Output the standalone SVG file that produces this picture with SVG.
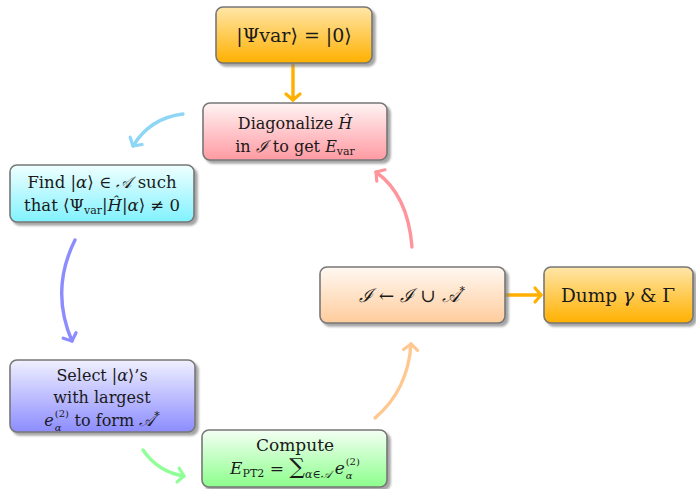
<svg xmlns="http://www.w3.org/2000/svg" width="696" height="489" viewBox="0 0 696 489">
<defs>
<linearGradient id="gOr" x1="0" y1="0" x2="0" y2="1"><stop offset="0" stop-color="#ffe6a8"/><stop offset="1" stop-color="#ffb000"/></linearGradient>
<linearGradient id="gRed" x1="0" y1="0" x2="0" y2="1"><stop offset="0" stop-color="#fff4f4"/><stop offset="1" stop-color="#ff9aa2"/></linearGradient>
<linearGradient id="gCy" x1="0" y1="0" x2="0" y2="1"><stop offset="0" stop-color="#f0ffff"/><stop offset="1" stop-color="#80f2ff"/></linearGradient>
<linearGradient id="gBl" x1="0" y1="0" x2="0" y2="1"><stop offset="0" stop-color="#f0f0ff"/><stop offset="1" stop-color="#8c8cff"/></linearGradient>
<linearGradient id="gGr" x1="0" y1="0" x2="0" y2="1"><stop offset="0" stop-color="#f4fff4"/><stop offset="1" stop-color="#8cff8c"/></linearGradient>
<linearGradient id="gPe" x1="0" y1="0" x2="0" y2="1"><stop offset="0" stop-color="#fff8f2"/><stop offset="1" stop-color="#ffcc9c"/></linearGradient>
<filter id="sh" x="-10%" y="-10%" width="130%" height="140%"><feDropShadow dx="3" dy="3" stdDeviation="1.2" flood-color="#808080" flood-opacity="0.7"/></filter>
<marker id="mOr" markerUnits="userSpaceOnUse" markerWidth="20" markerHeight="20" refX="0" refY="0" viewBox="-10 -10 20 20" orient="auto"><path d="M-6,-7 L0,0 L-6,7" fill="none" stroke="#ffb000" stroke-width="3.2" stroke-linecap="round" stroke-linejoin="round"/></marker>
<marker id="mSky" markerUnits="userSpaceOnUse" markerWidth="20" markerHeight="20" refX="0" refY="0" viewBox="-10 -10 20 20" orient="auto"><path d="M-6,-7 L0,0 L-6,7" fill="none" stroke="#8dd6f6" stroke-width="3.2" stroke-linecap="round" stroke-linejoin="round"/></marker>
<marker id="mBl" markerUnits="userSpaceOnUse" markerWidth="20" markerHeight="20" refX="0" refY="0" viewBox="-10 -10 20 20" orient="auto"><path d="M-6,-7 L0,0 L-6,7" fill="none" stroke="#8c8cff" stroke-width="3.2" stroke-linecap="round" stroke-linejoin="round"/></marker>
<marker id="mGr" markerUnits="userSpaceOnUse" markerWidth="20" markerHeight="20" refX="0" refY="0" viewBox="-10 -10 20 20" orient="auto"><path d="M-6,-7 L0,0 L-6,7" fill="none" stroke="#90ff98" stroke-width="3.2" stroke-linecap="round" stroke-linejoin="round"/></marker>
<marker id="mPe" markerUnits="userSpaceOnUse" markerWidth="20" markerHeight="20" refX="0" refY="0" viewBox="-10 -10 20 20" orient="auto"><path d="M-6,-7 L0,0 L-6,7" fill="none" stroke="#ffc890" stroke-width="3.2" stroke-linecap="round" stroke-linejoin="round"/></marker>
<marker id="mPk" markerUnits="userSpaceOnUse" markerWidth="20" markerHeight="20" refX="0" refY="0" viewBox="-10 -10 20 20" orient="auto"><path d="M-6,-7 L0,0 L-6,7" fill="none" stroke="#ff959c" stroke-width="3.2" stroke-linecap="round" stroke-linejoin="round"/></marker>
</defs>
<style>
.box{stroke:#777;stroke-width:1.6;filter:url(#sh)}
text{font-family:"DejaVu Serif","Liberation Serif",serif;font-size:16px;fill:#1a1a1a;text-anchor:middle}
.big{font-size:18.5px}
.it{font-style:italic}
.sub{font-size:11px}
.sm{font-size:10px}
.arr{fill:none;stroke-width:3.4;stroke-linecap:round}
</style>
<g id="connectors">
<path class="arr" d="M293,64 L293,100" stroke="#ffb000" marker-end="url(#mOr)"/>
<path class="arr" d="M183,114 Q150,118 133,146" stroke="#8dd6f6" marker-end="url(#mSky)"/>
<path class="arr" d="M75,240 Q50,290 72,341" stroke="#8c8cff" marker-end="url(#mBl)"/>
<path class="arr" d="M143,450 Q158,472 184,476" stroke="#90ff98" marker-end="url(#mGr)"/>
<path class="arr" d="M375,418 Q408,390 411,344" stroke="#ffc890" marker-end="url(#mPe)"/>
<path class="arr" d="M412,247 Q408,195 376,172" stroke="#ff959c" marker-end="url(#mPk)"/>
<path class="arr" d="M506,295 L541,295" stroke="#ffb000" marker-end="url(#mOr)"/>
</g>
<g id="init">
<rect class="box" x="216" y="7" width="156" height="56" rx="7" fill="url(#gOr)"/>
<text class="big" x="294" y="42" style="font-size:19px">|Ψvar⟩ =  |0⟩</text>
</g>
<g id="diag">
<rect class="box" x="203" y="103" width="184" height="57" rx="7" fill="url(#gRed)"/>
<text x="295" y="129">Diagonalize <tspan class="it">Ĥ</tspan></text>
<text x="295" y="152">in <tspan class="it">ℐ</tspan> to get <tspan class="it">E</tspan><tspan class="sub" dy="3">var</tspan></text>
</g>
<g id="find">
<rect class="box" x="10" y="165" width="184" height="57" rx="7" fill="url(#gCy)"/>
<text x="102" y="188" style="font-size:16.5px">Find |<tspan class="it">α</tspan>⟩ ∈ <tspan class="it">𝒜</tspan> such</text>
<text x="102" y="211" style="font-size:16.5px">that  ⟨Ψ<tspan class="sub" dy="3">var</tspan><tspan dy="-3">|</tspan><tspan class="it">Ĥ</tspan>|<tspan class="it">α</tspan>⟩ ≠ 0</text>
</g>
<g id="select">
<rect class="box" x="10" y="360" width="185" height="72" rx="7" fill="url(#gBl)"/>
<text x="102" y="426"><tspan class="it">e</tspan><tspan class="sm" dx="1" dy="-9">(2)</tspan><tspan class="sm it" dx="-14.2" dy="14">α</tspan><tspan dx="8" dy="-5"> to form </tspan><tspan class="it">𝒜</tspan><tspan class="sub" dy="-7">*</tspan></text>
<text x="102" y="381">Select |<tspan class="it">α</tspan>⟩’s</text>
<text x="102" y="403">with largest</text>
</g>
<g id="compute">
<rect class="box" x="202" y="430" width="185" height="57" rx="7" fill="url(#gGr)"/>
<text x="295" y="451" style="font-size:17px">Compute</text>
<text x="295" y="474" style="font-size:17px"><tspan class="it">E</tspan><tspan class="sub" dy="3">PT2</tspan><tspan dy="-3"> = </tspan><tspan style="font-size:22px">∑</tspan><tspan class="sub it" dy="4">α∈𝒜</tspan><tspan class="it" dx="4" dy="-4">e</tspan><tspan class="sm" dx="1" dy="-9">(2)</tspan><tspan class="sm it" dx="-14.2" dy="14">α</tspan></text>
</g>
<g id="update">
<rect class="box" x="320" y="267" width="185" height="56" rx="7" fill="url(#gPe)"/>
<text class="big" x="412" y="302"><tspan class="it">ℐ</tspan> ← <tspan class="it">ℐ</tspan> ∪ <tspan class="it">𝒜</tspan><tspan class="sub" dy="-8">*</tspan></text>
</g>
<g id="dump">
<rect class="box" x="544" y="267" width="149" height="56" rx="7" fill="url(#gOr)"/>
<text class="big" x="618" y="302">Dump <tspan class="it">γ</tspan> &amp; Γ</text>
</g>
</svg>
